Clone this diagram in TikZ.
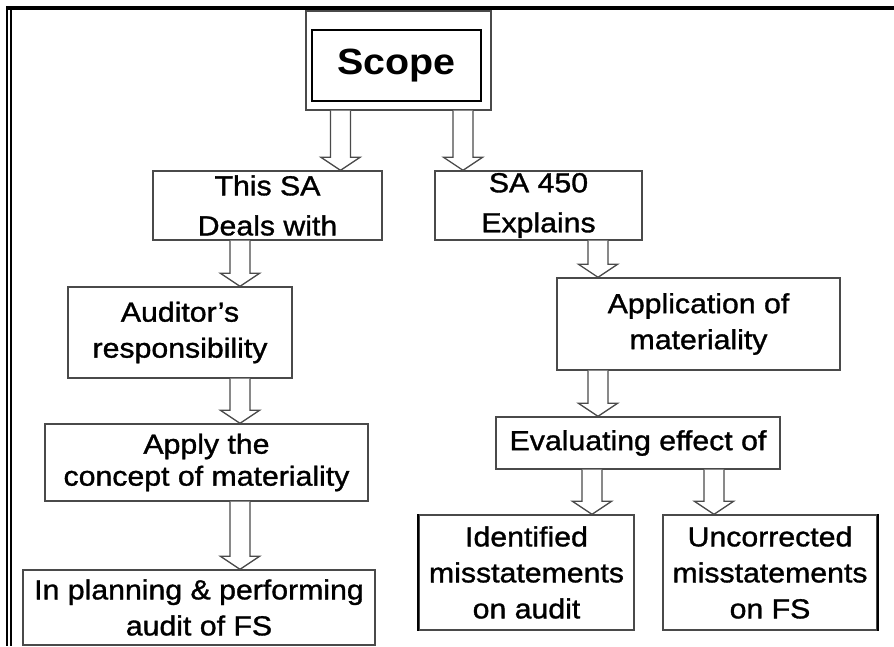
\documentclass[tikz,border=0pt]{standalone}
\usepackage{fontspec}
\setmainfont[FakeStretch=1.1,FakeBold=1.2]{Liberation Sans}
\newfontfamily\scopefont[FakeStretch=1.08]{Liberation Sans}
\usetikzlibrary{calc}
\definecolor{boxgray}{HTML}{4A4A4A}
\tikzset{
  box/.style={draw=boxgray, line width=1.4pt, inner sep=0pt, align=center,
    font=\fontsize{27.5}{36}\selectfont, text=black},
  barrow/.style={draw=boxgray, fill=white, line width=1.3pt, line join=miter},
  frameline/.style={draw=black, line cap=butt}
}
\newcommand\blockarr[3]{%
  \draw[barrow] let \p1=(#2.south), \p2=(#3.north) in
    (#1pt-10pt,\y1) -- (#1pt-10pt,\y2+13pt) -- (#1pt-19.5pt,\y2+13pt) --
    (#1pt,\y2) -- (#1pt+19.5pt,\y2+13pt) -- (#1pt+10pt,\y2+13pt) --
    (#1pt+10pt,\y1);}
\begin{document}
\begin{tikzpicture}[x=1pt,y=-1pt]
\useasboundingbox (0,0) rectangle (894,646);
% page frame
\draw[frameline, line width=4pt] (6,8) -- (894,8);
\draw[frameline, line width=2pt] (7,6) -- (7,646);
\draw[frameline, line width=2.4pt] (11.2,10) -- (11.2,646);

% scope
\node[box, line width=1.2pt, minimum width=185pt, minimum height=99pt] (scopeout) at (398.5,60.5) {};
\node[box, draw=black, line width=2.6pt, minimum width=169pt, minimum height=71pt,
      font=\scopefont\fontsize{36.5}{40}\selectfont\bfseries] (scope) at (396.5,65.5) {Scope};

% boxes
\node[box, minimum width=229pt, minimum height=69pt, font=\fontsize{27.5}{40}\selectfont] (thissa) at (267.5,205.5) {This SA\\Deals with};
\node[box, minimum width=207pt, minimum height=69pt, font=\fontsize{27.5}{40}\selectfont] (sa450) at (538.5,205.5) {SA 450\\Explains};
\node[box, minimum width=224pt, minimum height=91pt] (auditor) at (180,332.5) {Auditor’s\\responsibility};
\node[box, minimum width=323pt, minimum height=77pt, font=\fontsize{27.5}{32}\selectfont] (apply) at (206.5,462.5) {Apply the\\concept of materiality};
\node[box, minimum width=352pt, minimum height=75pt] (planning) at (199,607.5) {In planning \& performing\\audit of FS};
\node[box, minimum width=283pt, minimum height=92pt] (application) at (698.5,324) {Application of\\materiality};
\node[box, minimum width=284pt, minimum height=52pt] (evaluating) at (638,443) {Evaluating effect of};
\node[box, minimum width=215pt, minimum height=115pt] (identified) at (526.5,572.5) {Identified\\misstatements\\on audit};
\node[box, minimum width=214pt, minimum height=115pt] (uncorrected) at (770,572.5) {Uncorrected\\misstatements\\on FS};
\draw[black, line width=2pt] (identified.north west) -- (identified.south west);
\draw[black, line width=2pt] (uncorrected.north east) -- (uncorrected.south east);

% block arrows
\blockarr{340.5}{scopeout}{thissa}
\blockarr{463}{scopeout}{sa450}
\blockarr{240}{thissa}{auditor}
\blockarr{240}{auditor}{apply}
\blockarr{240}{apply}{planning}
\blockarr{598}{sa450}{application}
\blockarr{598}{application}{evaluating}
\blockarr{592}{evaluating}{identified}
\blockarr{714}{evaluating}{uncorrected}
\end{tikzpicture}
\end{document}
